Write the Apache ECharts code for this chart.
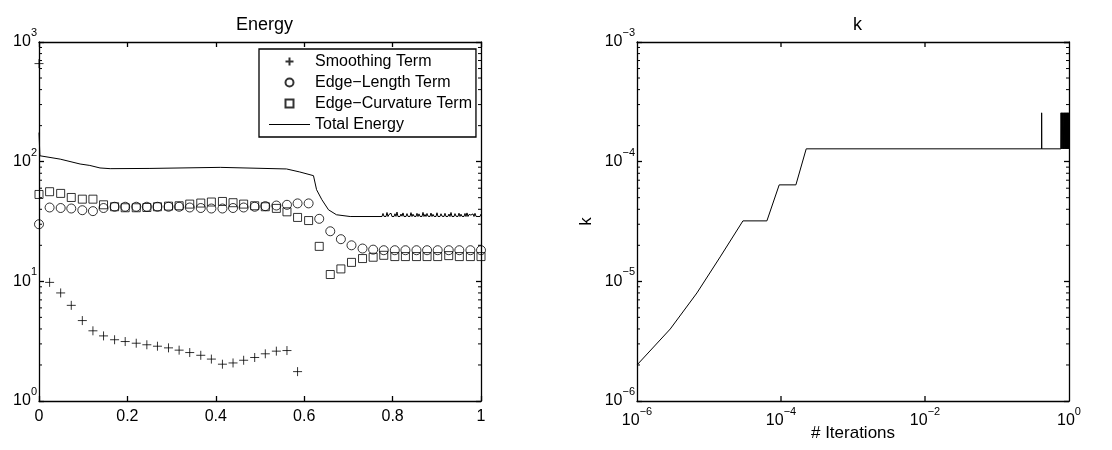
<!DOCTYPE html>
<html>
<head>
<meta charset="utf-8">
<title>Energy and k</title>
<script src="https://cdn.jsdelivr.net/npm/echarts@6/dist/echarts.min.js"></script>
<style>
  html, body { margin: 0; padding: 0; background: #fff; }
  #chart { width: 1112px; height: 450px; }
</style>
</head>
<body>
<div id="chart"></div>
<script>
// ---- Energy terms, sampled at normalised iteration positions ----
const iterX = [0, 0.024, 0.049, 0.073, 0.098, 0.122, 0.146, 0.171, 0.195, 0.220,
  0.244, 0.268, 0.293, 0.317, 0.341, 0.366, 0.390, 0.415, 0.439, 0.463,
  0.488, 0.512, 0.537, 0.561, 0.585, 0.610, 0.634, 0.659, 0.683, 0.707,
  0.732, 0.756, 0.780, 0.805, 0.829, 0.854, 0.878, 0.902, 0.927, 0.951,
  0.976, 1.0];

const smoothingTerm = [660, 9.8, 8.0, 6.3, 4.7, 3.86, 3.5, 3.25, 3.14, 3.04,
  2.95, 2.87, 2.78, 2.66, 2.54, 2.41, 2.24, 2.03, 2.08, 2.19,
  2.31, 2.48, 2.61, 2.64, 1.76, null, null, null, null, null,
  null, null, null, null, null, null, null, null, null, null,
  null, null];

const edgeLengthTerm = [30, 41.4, 41, 40.6, 39.3, 38.6, 41, 42, 42, 42,
  42, 42, 42, 42, 41.4, 41, 40.6, 40.6, 41, 41.4,
  42, 42.5, 43, 43.6, 44.8, 44.8, 33.3, 26.2, 22.5, 20.0,
  18.8, 18.4, 18.2, 18.2, 18.2, 18.2, 18.2, 18.2, 18.2, 18.2,
  18.2, 18.2];

const edgeCurvatureTerm = [53.2, 56.1, 54.3, 50.2, 48.6, 48.6, 43.6, 42.0, 41.2, 41.2,
  41.4, 42.0, 42.5, 42.8, 44.2, 45.1, 46.0, 46.5, 45.4, 44.2,
  42.8, 42.0, 40.7, 38.1, 34.2, 32.2, 19.6, 11.4, 12.7, 14.4,
  15.5, 15.9, 16.5, 16.1, 16.1, 16.1, 16.1, 16.1, 16.4, 16.1,
  16.1, 16.1];

// Total energy, densely sampled
const totalX = [0, 0.002, 0.048, 0.093, 0.115, 0.138, 0.161, 0.251, 0.41, 0.56,
  0.59, 0.621, 0.628, 0.640, 0.655, 0.673, 0.704, 0.776];
const totalY = [175, 112, 105, 95.6, 93, 88.6, 87.4, 87.8, 89.6, 86.9,
  82, 76.4, 58.3, 48.1, 39.6, 36, 34.8, 34.8];

// Jitter of the total energy once k starts to oscillate (evenly spaced samples)
const totalTailStart = 0.776;
const totalTailEnd = 1.0;
const totalTailY = [34.8, 36.9, 34.9, 35.8, 34.8, 37.6, 34.8, 36.2, 35.0, 37.1,
  34.8, 35.9, 34.8, 36.7, 34.9, 37.9, 34.8, 36.0, 34.8, 36.5,
  35.0, 37.3, 34.8, 35.7, 34.8, 36.8, 34.9, 36.1, 34.8, 37.5,
  34.8, 36.4, 35.0, 35.8, 34.8, 37.0, 34.8, 36.6, 34.9, 35.9,
  34.8, 37.7, 34.8, 36.2, 34.8, 36.9, 35.0, 35.6, 34.8, 37.2,
  34.8, 36.3, 34.9, 36.0, 34.8, 37.4, 34.8, 35.8, 34.8, 36.7,
  35.0, 36.1, 34.8, 37.0, 34.8, 35.9, 34.9, 36.5, 34.8, 37.6,
  34.8, 36.0, 34.8, 36.8, 35.0, 35.7, 34.8, 37.1, 34.8, 36.4,
  34.9, 35.9, 34.8, 36.9, 34.8, 37.3, 34.8, 36.2, 35.0, 35.8,
  34.8, 36.6, 34.8, 37.0, 34.9, 36.1, 34.8, 35.7, 34.8, 36.5];

// ---- Step size k against iterations ----
const kX = [1e-6, 2.9e-6, 6.8e-6, 1.43e-5, 2.96e-5, 6.37e-5, 9.44e-5, 1.61e-4, 2.24e-4,
  0.417, 0.417, 0.418, 0.773,
  0.775, 0.78, 0.79, 0.80, 0.81, 0.82, 0.83, 0.84, 0.85, 0.86, 0.87,
  0.88, 0.89, 0.90, 0.91, 0.92, 0.93, 0.94, 0.95, 0.96, 0.97, 0.98, 0.99, 1.0];
const kY = [2e-6, 4e-6, 8e-6, 1.6e-5, 3.2e-5, 3.2e-5, 6.4e-5, 6.4e-5, 1.28e-4,
  1.28e-4, 2.56e-4, 1.28e-4, 1.28e-4,
  2.56e-4, 1.28e-4, 2.56e-4, 1.28e-4, 2.56e-4, 1.28e-4, 2.56e-4, 1.28e-4, 2.56e-4, 1.28e-4, 2.56e-4,
  1.28e-4, 2.56e-4, 1.28e-4, 2.56e-4, 1.28e-4, 2.56e-4, 1.28e-4, 2.56e-4, 1.28e-4, 2.56e-4, 1.28e-4, 2.56e-4, 1.28e-4];

// Tick values of the log axes
const energyMinorTicks = [2, 3, 4, 5, 6, 7, 8, 9, 20, 30, 40, 50, 60, 70, 80, 90,
  200, 300, 400, 500, 600, 700, 800, 900];
const kMinorTicks = [2e-6, 3e-6, 4e-6, 5e-6, 6e-6, 7e-6, 8e-6, 9e-6,
  2e-5, 3e-5, 4e-5, 5e-5, 6e-5, 7e-5, 8e-5, 9e-5,
  2e-4, 3e-4, 4e-4, 5e-4, 6e-4, 7e-4, 8e-4, 9e-4];
const iterMajorTicks = [1e-4, 1e-2];

const legendNames = ['Smoothing Term', 'Edge\u2212Length Term', 'Edge\u2212Curvature Term', 'Total Energy'];

const FONT = '"Liberation Sans", Arial, Helvetica, sans-serif';
const INK = '#000';

const zip = (xs, ys) => xs.map((x, i) => [x, ys[i]]);

const totalTail = totalTailY.map((y, i) =>
  [totalTailStart + (totalTailEnd - totalTailStart) * i / (totalTailY.length - 1), y]);

// "10^n" labels
function powLabel(v) {
  const e = Math.round(Math.log10(v));
  return '{b|10}{s|' + String(e).replace('-', '\u2212') + '}';
}
// iterations axis is labelled every second decade
function powLabelEven(v) {
  const e = Math.round(Math.log10(v));
  return e % 2 === 0 ? powLabel(v) : '';
}
const powRich = {
  b: { fontSize: 16, lineHeight: 16, fontFamily: FONT, color: INK },
  s: { fontSize: 11, lineHeight: 10, fontFamily: FONT, color: INK, padding: [0, 0, 18, 0] }
};

const lineStyle = { color: INK, width: 1.3 };

function boxAxis(base, showLabel) {
  return Object.assign({
    axisLine: { show: true, onZero: false, lineStyle },
    axisTick: { show: true, inside: true, length: 5, lineStyle },
    splitLine: { show: false },
    minorTick: { show: false },
    axisLabel: { show: showLabel }
  }, base);
}

const plusPath = 'path://M5,0L5,10M0,5L10,5';
const squarePath = 'path://M0,0L10,0L10,10L0,10Z';
const legendLinePath = 'path://M0,0L41,0L41,1L0,1Z';

// Short inward ticks on both vertical sides of a grid
function yTickSeries(xAxisIndex, yAxisIndex, xLo, xHi, ticks, len) {
  return {
    type: 'custom',
    xAxisIndex, yAxisIndex,
    silent: true,
    clip: false,
    z: 5,
    data: ticks.map(v => [xLo, v]),
    renderItem(params, api) {
      const v = api.value(1);
      const p0 = api.coord([xLo, v]);
      const p1 = api.coord([xHi, v]);
      const st = { stroke: INK, lineWidth: 1 };
      return {
        type: 'group',
        children: [
          { type: 'line', shape: { x1: p0[0], y1: p0[1], x2: p0[0] + len, y2: p0[1] }, style: st },
          { type: 'line', shape: { x1: p1[0] - len, y1: p1[1], x2: p1[0], y2: p1[1] }, style: st }
        ]
      };
    }
  };
}

// Short inward ticks on both horizontal sides of a grid
function xTickSeries(xAxisIndex, yAxisIndex, yLo, yHi, ticks, len) {
  return {
    type: 'custom',
    xAxisIndex, yAxisIndex,
    silent: true,
    clip: false,
    z: 5,
    data: ticks.map(v => [v, yLo]),
    renderItem(params, api) {
      const v = api.value(0);
      const p0 = api.coord([v, yLo]);
      const p1 = api.coord([v, yHi]);
      const st = { stroke: INK, lineWidth: 1.3 };
      return {
        type: 'group',
        children: [
          { type: 'line', shape: { x1: p0[0], y1: p0[1], x2: p0[0], y2: p0[1] - len }, style: st },
          { type: 'line', shape: { x1: p1[0], y1: p1[1], x2: p1[0], y2: p1[1] + len }, style: st }
        ]
      };
    }
  };
}

const chart = echarts.init(document.getElementById('chart'), null, { renderer: 'canvas' });

chart.setOption({
  backgroundColor: '#fff',
  animation: false,
  textStyle: { fontFamily: FONT, color: INK },
  title: [
    { text: 'Energy', left: 231, top: 11, textStyle: { fontSize: 18, fontWeight: 'normal', fontFamily: FONT, color: INK } },
    { text: 'k', left: 848, top: 11, textStyle: { fontSize: 18, fontWeight: 'normal', fontFamily: FONT, color: INK } }
  ],
  grid: [
    { left: 39, top: 42, width: 442, height: 359 },
    { left: 637, top: 42, width: 432, height: 359 }
  ],
  legend: {
    orient: 'vertical',
    left: 259, top: 49,
    padding: [4, 4, 4, 10],
    itemWidth: 41, itemHeight: 8, itemGap: 4,
    symbolKeepAspect: true,
    borderColor: INK, borderWidth: 1.3,
    backgroundColor: '#fff',
    textStyle: { fontSize: 16, lineHeight: 17, fontFamily: FONT, color: INK },
    data: [
      { name: legendNames[0] },
      { name: legendNames[1] },
      { name: legendNames[2] },
      { name: legendNames[3], icon: legendLinePath, itemStyle: { color: INK, borderWidth: 0 } }
    ]
  },
  xAxis: [
    boxAxis({ gridIndex: 0, type: 'value', min: 0, max: 1, interval: 0.2, position: 'bottom',
      axisLabel: { show: true, margin: 8, fontSize: 16, fontFamily: FONT, color: INK } }, true),
    boxAxis({ gridIndex: 0, type: 'value', min: 0, max: 1, interval: 0.2, position: 'top' }, false),
    boxAxis({ gridIndex: 1, type: 'log', logBase: 10, min: 1e-6, max: 1, position: 'bottom',
      axisTick: { show: false },
      name: '# Iterations', nameLocation: 'middle', nameGap: 24, nameMoveOverlap: false,
      nameTextStyle: { fontSize: 17, fontFamily: FONT, color: INK },
      axisLabel: { show: true, margin: 12, formatter: powLabelEven, rich: powRich } }, true),
    boxAxis({ gridIndex: 1, type: 'log', logBase: 10, min: 1e-6, max: 1, position: 'top',
      axisTick: { show: false } }, false)
  ],
  yAxis: [
    boxAxis({ gridIndex: 0, type: 'log', logBase: 10, min: 1, max: 1000, splitNumber: 3, position: 'left',
      axisLabel: { show: true, margin: 2, formatter: powLabel, rich: powRich } }, true),
    boxAxis({ gridIndex: 0, type: 'log', logBase: 10, min: 1, max: 1000, splitNumber: 3, position: 'right' }, false),
    boxAxis({ gridIndex: 1, type: 'log', logBase: 10, min: 1e-6, max: 1e-3, splitNumber: 3, position: 'left',
      name: 'k', nameLocation: 'middle', nameGap: 42, nameRotate: 90,
      nameTextStyle: { fontSize: 17, fontFamily: FONT, color: INK },
      axisLabel: { show: true, margin: 2, formatter: powLabel, rich: powRich } }, true),
    boxAxis({ gridIndex: 1, type: 'log', logBase: 10, min: 1e-6, max: 1e-3, splitNumber: 3, position: 'right' }, false)
  ],
  series: [
    {
      name: legendNames[0], type: 'scatter', xAxisIndex: 0, yAxisIndex: 0,
      symbol: plusPath, symbolSize: 9, symbolKeepAspect: true,
      itemStyle: { color: 'transparent', borderColor: INK, borderWidth: 1 },
      data: zip(iterX, smoothingTerm).filter(d => d[1] != null),
      clip: false, z: 3
    },
    {
      name: legendNames[1], type: 'scatter', xAxisIndex: 0, yAxisIndex: 0,
      symbol: 'circle', symbolSize: 9, symbolKeepAspect: true,
      itemStyle: { color: 'transparent', borderColor: INK, borderWidth: 1 },
      data: zip(iterX, edgeLengthTerm),
      clip: false, z: 3
    },
    {
      name: legendNames[2], type: 'scatter', xAxisIndex: 0, yAxisIndex: 0,
      symbol: squarePath, symbolSize: 8, symbolKeepAspect: true,
      itemStyle: { color: 'transparent', borderColor: INK, borderWidth: 1 },
      data: zip(iterX, edgeCurvatureTerm),
      clip: false, z: 3
    },
    {
      name: legendNames[3], type: 'line', xAxisIndex: 0, yAxisIndex: 0,
      showSymbol: false, symbol: 'none',
      lineStyle: { color: INK, width: 1 },
      itemStyle: { color: INK },
      data: zip(totalX, totalY).concat(totalTail),
      z: 2
    },
    {
      name: 'k', type: 'line', xAxisIndex: 2, yAxisIndex: 2,
      showSymbol: false, symbol: 'none',
      lineStyle: { color: INK, width: 1 },
      data: zip(kX, kY),
      z: 2
    },
    yTickSeries(0, 0, 0, 1, energyMinorTicks, 3),
    yTickSeries(2, 2, 1e-6, 1, kMinorTicks, 3),
    xTickSeries(2, 2, 1e-6, 1e-3, iterMajorTicks, 5)
  ]
});
</script>
</body>
</html>
